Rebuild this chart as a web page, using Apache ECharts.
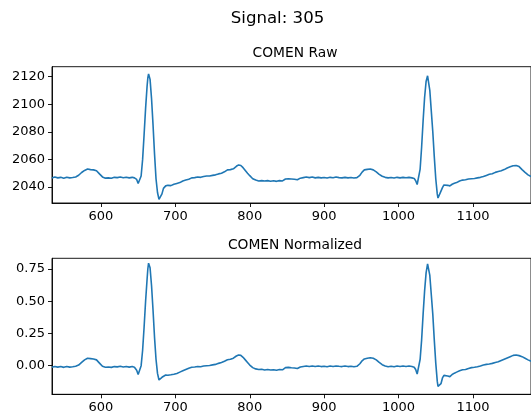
<!DOCTYPE html>
<html>
<head>
    <meta charset="utf-8">
    <title>Signal: 305</title>
    <script src="https://cdn.jsdelivr.net/npm/echarts@6/dist/echarts.min.js"></script>
    <style type="text/css">
        html, body { margin: 0; padding: 0; background: #fff; }
        #main { width: 531px; height: 416px; }
    </style>
</head>
<body>
<div id="main"></div>
<script type="text/javascript">
    // sample index (x axis)
    var xs = [
        534, 538, 542, 546, 550, 554, 558, 562, 566, 570,
        574, 578, 582, 586, 590, 594, 598, 602, 606, 610,
        614, 618, 622, 626, 630, 634, 638, 642, 645, 648,
        650, 651, 652, 654, 656, 658, 660, 662, 663, 664,
        665, 666, 668, 670, 672, 674, 676, 678, 680, 682,
        684, 687, 690, 694, 698, 702, 706, 710, 714, 718,
        722, 726, 730, 734, 738, 742, 746, 750, 754, 758,
        762, 766, 770, 774, 778, 782, 785, 788, 791, 794,
        797, 800, 804, 808, 812, 816, 820, 824, 828, 832,
        836, 840, 844, 848, 852, 856, 860, 864, 868, 872,
        876, 880, 884, 888, 892, 896, 900, 904, 908, 912,
        916, 920, 924, 928, 932, 936, 940, 944, 948, 951,
        954, 958, 962, 966, 970, 974, 978, 982, 986, 990,
        994, 998, 1002, 1006, 1010, 1014, 1018, 1021, 1023, 1025,
        1026, 1027, 1029, 1031, 1033, 1035, 1037, 1039, 1040, 1042,
        1044, 1046, 1048, 1050, 1052, 1053, 1055, 1057, 1059, 1061,
        1063, 1066, 1069, 1072, 1075, 1078, 1082, 1086, 1090, 1094,
        1098, 1102, 1106, 1110, 1114, 1118, 1122, 1126, 1130, 1134,
        1138, 1142, 1146, 1150, 1154, 1158, 1162, 1166, 1170, 1174,
        1178
    ];

    // COMEN raw signal
    var rawValues = [
        2046.5, 2047.2, 2046.6, 2047.0, 2046.4, 2047.1, 2046.6, 2046.9, 2047.3, 2048.5,
        2050.5, 2052.0, 2053.0, 2052.6, 2052.4, 2051.8, 2049.5, 2047.3, 2046.4, 2046.6,
        2046.3, 2047.0, 2046.8, 2047.2, 2046.7, 2047.1, 2046.6, 2047.0, 2046.6, 2045.5,
        2042.5, 2041.3, 2042.5, 2048, 2060, 2078, 2097, 2113, 2119, 2122,
        2121.5, 2118, 2104, 2085, 2064, 2046, 2036, 2031, 2031.5, 2035,
        2039, 2040.8, 2041.2, 2041.0, 2042.0, 2042.6, 2043.2, 2044.4, 2045.0, 2045.6,
        2046.6, 2046.8, 2047.2, 2047.0, 2047.6, 2048.0, 2048.0, 2048.4, 2048.8, 2049.5,
        2050.0, 2051.0, 2052.4, 2052.6, 2053.2, 2055.0, 2056.0, 2055.6, 2054.0, 2052.0,
        2050.0, 2048.2, 2046.0, 2045.0, 2044.4, 2044.6, 2044.3, 2044.6, 2044.2, 2044.5,
        2044.1, 2044.6, 2044.4, 2045.8, 2046.0, 2045.8, 2045.6, 2045.2, 2046.4, 2046.8,
        2047.2, 2046.8, 2047.2, 2046.6, 2047.0, 2046.6, 2046.9, 2046.5, 2047.0, 2046.7,
        2047.2, 2046.8, 2046.6, 2047.0, 2046.6, 2046.9, 2046.5, 2046.8, 2048.5, 2050.8,
        2052.4, 2052.8, 2053.0, 2052.4, 2051.0, 2049.2, 2047.8, 2047.0, 2046.6, 2046.9,
        2046.5, 2047.0, 2046.6, 2047.0, 2046.7, 2047.0, 2046.6, 2046.2, 2044.5, 2041.8,
        2041.3, 2042.0, 2053, 2069, 2088, 2105, 2116.5, 2120.6, 2119.5, 2110,
        2095, 2080, 2062, 2046, 2035, 2032, 2033, 2037, 2039.5, 2041.5,
        2042.0, 2041.2, 2040.8, 2042.0, 2042.7, 2043.2, 2044.4, 2045.0, 2045.2, 2045.8,
        2046.0, 2046.2, 2046.6, 2047.0, 2047.6, 2048.4, 2049.2, 2049.6, 2050.6, 2051.2,
        2051.8, 2052.6, 2053.8, 2054.6, 2055.4, 2055.6, 2054.8, 2052.6, 2050.6, 2048.8,
        2047.6
    ];

    // COMEN normalized signal
    var normValues = [
        -0.012, -0.006, -0.011, -0.007, -0.013, -0.006, -0.011, -0.008, -0.004, 0.005,
        0.025, 0.045, 0.058, 0.055, 0.052, 0.045, 0.020, -0.005, -0.012, -0.010,
        -0.013, -0.007, -0.009, -0.005, -0.010, -0.006, -0.011, -0.007, -0.012, -0.035,
        -0.068, -0.072, -0.060, 0.000, 0.120, 0.300, 0.500, 0.670, 0.750, 0.795,
        0.790, 0.760, 0.620, 0.430, 0.220, 0.050, -0.060, -0.111, -0.105, -0.090,
        -0.078, -0.072, -0.074, -0.070, -0.066, -0.060, -0.050, -0.040, -0.030, -0.020,
        -0.012, -0.010, -0.006, -0.008, -0.003, 0.000, 0.002, 0.006, 0.010, 0.018,
        0.025, 0.035, 0.046, 0.050, 0.058, 0.075, 0.083, 0.080, 0.065, 0.045,
        0.025, 0.005, -0.015, -0.025, -0.030, -0.028, -0.033, -0.030, -0.034, -0.031,
        -0.035, -0.030, -0.032, -0.015, -0.013, -0.016, -0.018, -0.022, -0.010, -0.006,
        -0.002, -0.006, -0.002, -0.007, -0.003, -0.007, -0.004, -0.008, -0.003, -0.006,
        -0.002, -0.005, -0.007, -0.003, -0.007, -0.004, -0.008, -0.005, 0.015, 0.038,
        0.052, 0.058, 0.062, 0.057, 0.045, 0.025, 0.008, -0.002, -0.008, -0.004,
        -0.008, -0.003, -0.007, -0.003, -0.006, -0.003, -0.007, -0.012, -0.030, -0.065,
        -0.072, -0.050, 0.050, 0.200, 0.400, 0.580, 0.720, 0.790, 0.780, 0.700,
        0.550, 0.400, 0.200, 0.020, -0.120, -0.160, -0.172, -0.140, -0.095, -0.075,
        -0.070, -0.080, -0.085, -0.068, -0.058, -0.050, -0.040, -0.032, -0.030, -0.022,
        -0.015, -0.012, -0.008, -0.002, 0.005, 0.010, 0.013, 0.018, 0.025, 0.030,
        0.040, 0.050, 0.060, 0.070, 0.080, 0.083, 0.078, 0.070, 0.058, 0.045,
        0.035
    ];

    var xTicks = [600, 700, 800, 900, 1000, 1100, 1200];
    var rawTicks = [2040, 2060, 2080, 2100, 2120];
    var normTicks = [0, 0.25, 0.5, 0.75];

    var FONT = 'DejaVu Sans';
    var LINE = '#1f77b4';
    var TICK_FONT = 13;

    function xAxisOf(gridIndex) {
        return {
            type: 'value', gridIndex: gridIndex, min: 534.2, max: 1178, position: 'bottom',
            axisLine: {show: true, onZero: false, lineStyle: {color: '#000', width: 0.9}},
            splitLine: {show: false},
            axisTick: {show: true, inside: false, length: 4, customValues: xTicks, lineStyle: {color: '#000', width: 0.9}},
            axisLabel: {
                customValues: xTicks, margin: 7, color: '#000', fontFamily: FONT, fontSize: TICK_FONT,
                formatter: function (v) { return String(Math.round(v)); }
            }
        };
    }

    function yAxisOf(gridIndex, min, max, ticks, fmt) {
        return {
            type: 'value', gridIndex: gridIndex, min: min, max: max, position: 'left',
            axisLine: {show: true, onZero: false, lineStyle: {color: '#000', width: 0.9}},
            splitLine: {show: false},
            axisTick: {show: true, inside: false, length: 4, customValues: ticks, lineStyle: {color: '#000', width: 0.9}},
            axisLabel: {customValues: ticks, margin: 7, color: '#000', fontFamily: FONT, fontSize: TICK_FONT, formatter: fmt}
        };
    }

    var chart = echarts.init(document.getElementById('main'), null, {renderer: 'canvas'});
    chart.setOption({
        animation: false,
        backgroundColor: '#fff',
        graphic: [
            {type: 'text', x: 277.5, y: 19, style: {text: 'Signal: 305', fill: '#000', font: '16.6px "DejaVu Sans"', textAlign: 'center', textVerticalAlign: 'middle'}},
            {type: 'text', x: 295, y: 53.5, style: {text: 'COMEN Raw', fill: '#000', font: '13.8px "DejaVu Sans"', textAlign: 'center', textVerticalAlign: 'middle'}},
            {type: 'text', x: 295, y: 245.5, style: {text: 'COMEN Normalized', fill: '#000', font: '13.8px "DejaVu Sans"', textAlign: 'center', textVerticalAlign: 'middle'}}
        ],
        grid: [
            {left: 52, right: -7, top: 66.7, height: 136.3, show: true, borderColor: '#000', borderWidth: 0.9, backgroundColor: 'transparent'},
            {left: 52, right: -7, top: 258.3, height: 136, show: true, borderColor: '#000', borderWidth: 0.9, backgroundColor: 'transparent'}
        ],
        xAxis: [xAxisOf(0), xAxisOf(1)],
        yAxis: [
            yAxisOf(0, 2028.4, 2127.2, rawTicks, function (v) { return String(Math.round(v)); }),
            yAxisOf(1, -0.222, 0.833, normTicks, function (v) { return v.toFixed(2); })
        ],
        series: [
            {
                name: 'COMEN Raw', type: 'line', xAxisIndex: 0, yAxisIndex: 0,
                showSymbol: false, lineStyle: {color: LINE, width: 1.6}, itemStyle: {color: LINE},
                data: xs.map(function (x, i) { return [x, rawValues[i]]; })
            },
            {
                name: 'COMEN Normalized', type: 'line', xAxisIndex: 1, yAxisIndex: 1,
                showSymbol: false, lineStyle: {color: LINE, width: 1.6}, itemStyle: {color: LINE},
                data: xs.map(function (x, i) { return [x, normValues[i]]; })
            }
        ]
    });
</script>
</body>
</html>
